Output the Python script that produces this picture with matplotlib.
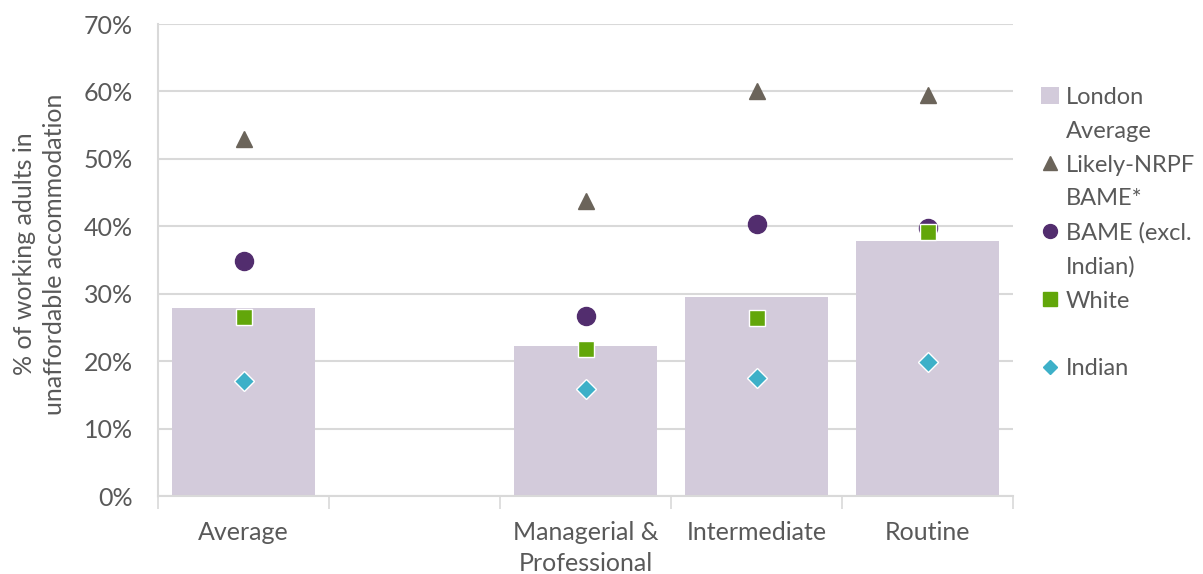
import matplotlib
matplotlib.use("Agg")
import matplotlib.pyplot as plt
from matplotlib.lines import Line2D
from matplotlib.patches import Patch
import numpy as np

# Data (shares of working adults in unaffordable accommodation, %)
categories = ["Average", "", "Managerial &\nProfessional", "Intermediate", "Routine"]
london_average = [27.9, np.nan, 22.3, 29.5, 37.8]
likely_nrpf_bame = [53.0, np.nan, 43.8, 60.0, 59.5]
bame_excl_indian = [34.9, np.nan, 26.7, 40.4, 39.7]
white = [26.5, np.nan, 21.8, 26.4, 39.1]
indian = [17.0, np.nan, 15.9, 17.5, 19.8]
y_ticks = [0, 10, 20, 30, 40, 50, 60, 70]

TEXT = "#595959"
GRID = "#D9D9D9"
C_BAR = "#D3CBDB"
C_TRI = "#6B645A"
C_CIR = "#522D6E"
C_SQ = "#62A60A"
C_DIA = "#3DB0C8"
FS = 18

plt.rcParams["font.family"] = ["Lato", "DejaVu Sans"]

fig = plt.figure(figsize=(12.03, 5.74), dpi=100)
ax = fig.add_axes([158 / 1203, 1 - 496 / 574, (1013 - 158) / 1203, (496 - 24) / 574])

x = np.arange(len(categories))
ax.bar(x, london_average, width=0.836, color=C_BAR, zorder=2)
ax.plot(x, likely_nrpf_bame, linestyle="none", marker="^", markersize=12,
        color=C_TRI, markeredgecolor=C_TRI, zorder=3)
ax.plot(x, bame_excl_indian, linestyle="none", marker="o", markersize=13,
        color=C_CIR, markeredgecolor=C_CIR, zorder=3)
ax.plot(x, white, linestyle="none", marker="s", markersize=12,
        color=C_SQ, markeredgecolor="white", markeredgewidth=1, zorder=4)
ax.plot(x, indian, linestyle="none", marker="D", markersize=10,
        color=C_DIA, markeredgecolor="white", markeredgewidth=1, zorder=4)

ax.set_xlim(-0.5, len(categories) - 0.5)
ax.set_ylim(0, 70)
ax.set_yticks(y_ticks)
ax.set_yticklabels([f"{v}%" for v in y_ticks])
ax.yaxis.grid(True, color=GRID, linewidth=1.5, zorder=0)
ax.set_axisbelow(True)

ax.set_xticks(x)
ax.set_xticklabels(categories, linespacing=1.4)
ax.set_xticks(np.arange(-0.5, len(categories)), minor=True)
ax.tick_params(axis="x", which="major", length=0, pad=18, labelsize=FS, labelcolor=TEXT)
ax.tick_params(axis="x", which="minor", length=9, width=1.2, color=GRID)
ax.tick_params(axis="y", length=0, pad=18, labelsize=FS, labelcolor=TEXT)

for side in ("top", "right"):
    ax.spines[side].set_visible(False)
for side in ("left", "bottom"):
    ax.spines[side].set_color(GRID)
    ax.spines[side].set_linewidth(1.5)

ax.set_ylabel("% of working adults in\nunaffordable accommodation",
              fontsize=FS, color=TEXT, linespacing=1.35)
ax.yaxis.set_label_coords(-0.1076, 0.513)

# Legend: one row per text line so that markers sit beside the first line
blank = Line2D([], [], linestyle="none")
handles = [
    Patch(facecolor=C_BAR, edgecolor="none"), blank,
    Line2D([], [], linestyle="none", marker="^", markersize=10, color=C_TRI), blank,
    Line2D([], [], linestyle="none", marker="o", markersize=10, color=C_CIR), blank,
    Line2D([], [], linestyle="none", marker="s", markersize=10, color=C_SQ), blank,
    Line2D([], [], linestyle="none", marker="D", markersize=7, color=C_DIA),
]
labels = ["London", "Average", "Likely-NRPF", "BAME*", "BAME (excl.", "Indian)",
          "White", " ", "Indian"]
leg = fig.legend(handles, labels, loc="upper left", bbox_to_anchor=(1041 / 1203, 1 - 87 / 574),
                 frameon=False, fontsize=17, labelcolor=TEXT, handlelength=0.75,
                 handleheight=0.75, handletextpad=0.3, labelspacing=0.54,
                 borderaxespad=0, borderpad=0)

fig.savefig("out.png", dpi=100)
